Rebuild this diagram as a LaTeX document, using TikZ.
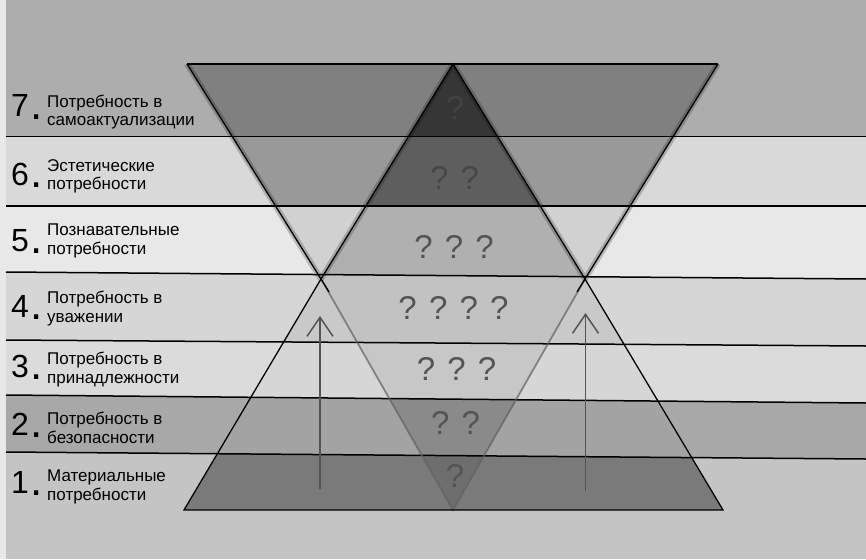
\documentclass[tikz,border=0pt]{standalone}
\usepackage{fontspec}
\setmainfont{Liberation Sans}
\usetikzlibrary{arrows.meta,calc}
\tikzset{
  mas/rule/.style={line width=1.5pt, draw=black},
  mas/edge/.style={line width=1.3pt, draw=black},
  mas/halo/.style={line width=6pt, draw=black, opacity=0.2},
  mas/soft/.style={line width=1.8pt, draw=black!62, opacity=0.7},
  mas/num/.style={anchor=base west, inner sep=0pt, font=\fontsize{32}{32}\selectfont, text=black},
  mas/label/.style={anchor=west, inner sep=0pt, align=left, font=\fontsize{17}{18.5}\selectfont, text=black},
  mas/quest/.style={inner sep=0pt, font=\fontsize{33}{33}\selectfont, text=black!67},
  mas/arrow/.style={-{Straight Barb[length=19pt,width=26pt]}, line width=1.5pt, draw=black!67}
}
\newcommand{\masdot}{\kern2pt\raisebox{-2pt}{\fontsize{44}{44}\selectfont.}}

\begin{document}
\begin{tikzpicture}[x=1pt,y=-1pt]
  \useasboundingbox (0,0) rectangle (866,559);
  \coordinate (tl) at (187,64);
  \coordinate (tr) at (718,64);
  \coordinate (apex) at (453,64);
  \coordinate (xl) at (321,279);
  \coordinate (xr) at (585,279);
  \coordinate (bl) at (184,510);
  \coordinate (br) at (723,510);
  \coordinate (vtx) at (453,510);
  \foreach \ya/\yb/\yc/\yd/\cb/\cs/\cr in {0/0/136.5/136.5/32/50/79, 136.5/136.5/206/206/15/40/63,
      206/206/272/279/9/18/31, 272/279/340/346/16/21/24, 340/346/395/403/14/16/22,
      395/403/452/459/34/36/46, 452/459/559/559/23/52/57}{
    \begin{scope}
      \clip (0,\ya) -- (866,\yb) -- (866,\yd) -- (0,\yc) -- cycle;
      \fill[black!\cb] (0,0) rectangle (866,559);
      \fill[black!\cs] (tl) -- (apex) -- (xl) -- cycle (apex) -- (tr) -- (xr) -- cycle
        (xl) -- (bl) -- (vtx) -- cycle (xr) -- (vtx) -- (br) -- cycle;
      \fill[black!\cr] (apex) -- (xl) -- (vtx) -- (xr) -- cycle;
    \end{scope}
  }
  \fill[black!9] (0,0) rectangle (6,559);
  \draw[mas/rule] (6,136.5) -- (866,136.5);
  \draw[mas/rule] (6,206) -- (866,206);
  \draw[mas/rule] (6,272) -- (866,279);
  \draw[mas/rule] (6,340) -- (866,346);
  \draw[mas/rule] (6,395) -- (866,403);
  \draw[mas/rule] (6,452) -- (866,459);
  \draw[mas/halo] (tl) -- (xl) (apex) -- (xl) (apex) -- (xr) (tr) -- (xr);
  \draw[mas/soft] (xl) -- (vtx) -- (xr);
  \draw[mas/edge] (tl) -- (tr);
  \draw[mas/edge] (tl) -- (xl) -- (bl) -- (br) -- (xr) -- (tr);
  \draw[mas/edge] (xl) -- (apex) -- (xr);
  \draw[mas/edge] (xl) -- ($(tl)!1.06!(xl)$);
  \draw[mas/edge] (xr) -- ($(tr)!1.06!(xr)$);
  \coordinate (la0) at (320,489);
  \coordinate (la1) at (320,316);
  \coordinate (ra0) at (585.5,491);
  \coordinate (ra1) at (585.5,313);
  \draw[mas/arrow] (la0) -- (la1);
  \draw[mas/arrow] (ra0) -- (ra1);
  \node[mas/quest, text=black!74] (q7) at (455,108) {?};
  \node[mas/quest, text=black!72] (q6) at (454.5,177.5) {? ?};
  \node[mas/quest] (q5) at (454,246.5) {? ? ?};
  \node[mas/quest] (q4) at (453.5,307.5) {? ? ? ?};
  \node[mas/quest] (q3) at (456.5,368.5) {? ? ?};
  \node[mas/quest] (q2) at (455.5,422.5) {? ?};
  \node[mas/quest] (q1) at (455,475.5) {?};
  \node[mas/num] (n7) at (11,117) {7\masdot};
  \node[mas/label] (t7) at (47,112) {Потребность в\\самоактуализации};
  \node[mas/num] (n6) at (11,185) {6\masdot};
  \node[mas/label] (t6) at (47,176.4) {Эстетические\\потребности};
  \node[mas/num] (n5) at (11,251) {5\masdot};
  \node[mas/label] (t5) at (47,240.9) {Познавательные\\потребности};
  \node[mas/num] (n4) at (11,317) {4\masdot};
  \node[mas/label] (t4) at (47,308.5) {Потребность в\\уважении};
  \node[mas/num] (n3) at (11,377) {3\masdot};
  \node[mas/label] (t3) at (47,369.4) {Потребность в\\принадлежности};
  \node[mas/num] (n2) at (11,435) {2\masdot};
  \node[mas/label] (t2) at (47,427.6) {Потребность в\\безопасности};
  \node[mas/num] (n1) at (11,493) {1\masdot};
  \node[mas/label] (t1) at (47,486.7) {Материальные\\потребности};
\end{tikzpicture}
\end{document}
